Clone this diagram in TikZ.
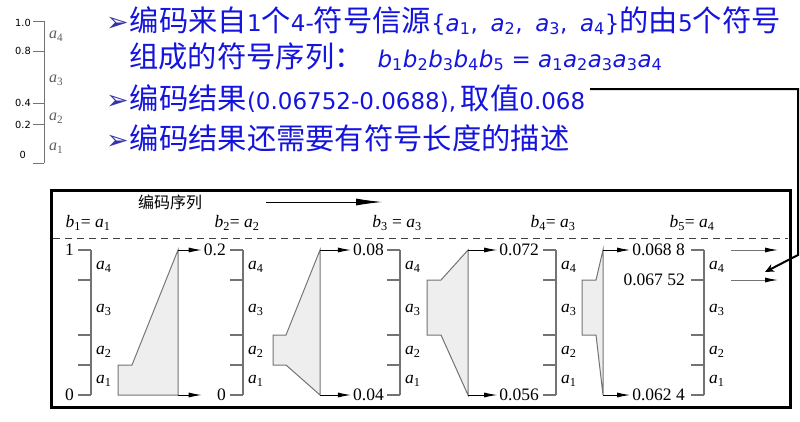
\documentclass[tikz,border=0pt]{standalone}
\usepackage{fontspec}
\usepackage{graphicx}
\usetikzlibrary{arrows.meta}
\setmainfont{Liberation Serif}
\newfontfamily\cjk{Noto Sans CJK SC}
\newfontfamily\lat{DejaVu Sans}[Scale=0.785]
\newfontfamily\bulfont{DejaVu Sans}
\definecolor{tblue}{RGB}{20,20,220}
\definecolor{bnavy}{RGB}{50,50,170}
\definecolor{lgray}{RGB}{115,115,115}
\definecolor{fgray}{RGB}{238,238,238}
\newcommand\sy[2]{\textit{#1}\textsubscript{\upshape#2}}
\newcommand\bul{{\bulfont\color{bnavy}\fontsize{27}{30}\selectfont ➢}\hspace{1pt}}
\tikzstyle{ttl}=[anchor=base west, inner sep=0pt, text=tblue,
  font=\fontsize{29.3}{34}\selectfont\cjk]
\tikzstyle{scl}=[draw=lgray, line width=1.1pt]
\tikzstyle{fun}=[draw=lgray, fill=fgray, line width=1pt]
\tikzstyle{num}=[font=\fontsize{17.5}{20}\selectfont, inner sep=2pt]
\tikzstyle{sym}=[font=\fontsize{17.5}{20}\selectfont, inner sep=0pt, anchor=west]
\tikzstyle{sarr}=[-{Latex[length=13pt,width=5pt]}, line width=0.9pt]
\begin{document}
\begin{tikzpicture}[x=1pt, y=-1pt]
    \useasboundingbox (0,0) rectangle (800,421);
    % small scale, top left
    \draw[scl, line width=0.8pt] (44,21) -- (44,163);
    \foreach \ty in {21,51,103,124,163} \draw[scl, line width=0.8pt] (33,\ty) -- (44,\ty);
    \foreach \v/\vy/\vx in {1.0/23/31, 0.8/51/31, 0.4/103/31, 0.2/125/31, 0/155/26}
      \node[anchor=east, inner sep=0pt, font=\lat\fontsize{12.5}{14}\selectfont] (m\vy) at (\vx,\vy) {\v};
    \foreach \k/\ly in {4/36,3/80,2/118,1/148}
      \node[anchor=west, inner sep=0pt, text=lgray!80!black, font=\fontsize{16}{18}\selectfont] (ma\k) at (49,\ly) {\sy{a}{\k}};
    % text lines
    \node[ttl] (l1) at (106,31) {\bul 编码来自{\lat 1}个{\lat 4-}符号信源{\lat\{\sy{a}{1},\hspace{.55em}\sy{a}{2},\hspace{.55em}\sy{a}{3},\hspace{.55em}\sy{a}{4}\}}的由{\lat 5}个符号};
    \node[ttl] (l2) at (129,67) {组成的符号序列：{\lat\hspace{14pt}\sy{b}{1}\sy{b}{2}\sy{b}{3}\sy{b}{4}\sy{b}{5} = \sy{a}{1}\sy{a}{2}\sy{a}{3}\sy{a}{3}\sy{a}{4}}};
    \node[ttl] (l3) at (106,109) {\bul 编码结果{\lat (0.06752-0.0688),\hspace{.2em}}取值{\lat 0.068}};
    \node[ttl] (l4) at (106,149) {\bul 编码结果还需要有符号长度的描述};
    % frame
    \draw[line width=3pt] (51,190) rectangle (790,407);
    \node[font=\cjk\fontsize{16}{18}\selectfont] (seq) at (170,202) {编码序列};
    \coordinate (sq1) at (266,202);
    \coordinate (sq2) at (382,202);
    \draw[-{Latex[length=26pt,width=7pt]}, line width=0.8pt] (sq1) -- (sq2);
    \draw[dash pattern=on 7pt off 5pt, line width=0.8pt, draw=black!75] (53,238) -- (788,238);
    \node[num] (b1) at (88,223) {\sy{b}{1}= \sy{a}{1}};
    \node[num] (b2) at (237,223) {\sy{b}{2}= \sy{a}{2}};
    \node[num] (b3) at (397,223) {\sy{b}{3} = \sy{a}{3}};
    \node[num] (b4) at (553,223) {\sy{b}{4}= \sy{a}{3}};
    \node[num] (b5) at (692,223) {\sy{b}{5}= \sy{a}{4}};
    % interval scales
    \foreach \bx in {91,243,400,556,704} {
      \draw[scl] (\bx,250) -- (\bx,395);
      \foreach \ty in {250,280,335,365,395} \draw[scl] (\bx-13,\ty) -- (\bx,\ty);
      \foreach \k/\ly in {4/267,3/310,2/352,1/381}
        \node[sym] (s\bx a\k) at (\bx+5,\ly) {\sy{a}{\k}};
    }
    % interval values
    \node[num, anchor=east] (v1t) at (76,250) {1};
    \node[num, anchor=east] (v1b) at (76,395) {0};
    \node[num, anchor=east] (v2t) at (228,250) {0.2};
    \node[num, anchor=east] (v2b) at (228,395) {0};
    \node[num, anchor=east] (v3t) at (386,250) {0.08};
    \node[num, anchor=east] (v3b) at (386,395) {0.04};
    \node[num, anchor=east] (v4t) at (541,250) {0.072};
    \node[num, anchor=east] (v4b) at (541,395) {0.056};
    \node[num, anchor=east] (v5t) at (687,250) {0.068\hspace{.25em}8};
    \node[num, anchor=east] (v5m) at (687,280) {0.067\hspace{.25em}52};
    \node[num, anchor=east] (v5b) at (687,395) {0.062\hspace{.25em}4};
    % funnels
    \filldraw[fun] (118,365) -- (132,365) -- (178,250) -- (178,395) -- (118,395) -- cycle;
    \filldraw[fun] (273,335) -- (286,335) -- (320,250) -- (320,395) -- (286,365) -- (273,365) -- cycle;
    \filldraw[fun] (427,280) -- (441,280) -- (468,250) -- (468,395) -- (441,335) -- (427,335) -- cycle;
    \filldraw[fun] (582,280) -- (596,280) -- (603,250) -- (603,395) -- (596,335) -- (582,335) -- cycle;
    \coordinate (f1t) at (178,250); \coordinate (f1b) at (178,395);
    \coordinate (f2t) at (320,250); \coordinate (f2b) at (320,395);
    \coordinate (f3t) at (468,250); \coordinate (f3b) at (468,395);
    \coordinate (f4t) at (603,250); \coordinate (f4b) at (603,395);
    \draw[sarr] (f1t) -- (v2t.west);
    \draw[sarr] (f1b) -- (v2b.west -| v2t.west);
    \draw[sarr] (f2t) -- (v3t.west);
    \draw[sarr] (f2b) -- (v3b.west);
    \draw[sarr] (f3t) -- (v4t.west);
    \draw[sarr] (f3b) -- (v4b.west);
    \draw[sarr] (f4t) -- (v5t.west);
    \draw[sarr] (f4b) -- (v5b.west);
    % final interval out
    \coordinate (o1) at (731,250); \coordinate (o1e) at (778,250);
    \coordinate (o2) at (731,280); \coordinate (o2e) at (778,280);
    \draw[sarr, draw=lgray, -{Latex[length=13pt,width=5pt, color=black]}] (o1) -- (o1e);
    \draw[sarr, draw=lgray, -{Latex[length=13pt,width=5pt, color=black]}] (o2) -- (o2e);
    % pointer from result
    \coordinate (res) at (590,89);
    \coordinate (turn) at (798,89);
    \coordinate (bend) at (798,255);
    \coordinate (gap) at (765,272);
    \draw[line width=2pt, -{Stealth[length=9pt,width=8pt]}] (res) -- (turn) -- (bend) -- (gap);
  \end{tikzpicture}
\end{document}
